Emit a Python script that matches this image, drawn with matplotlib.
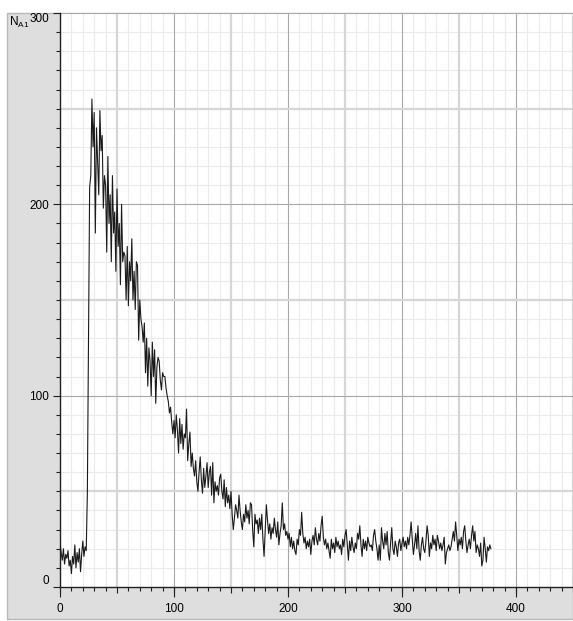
import matplotlib
matplotlib.use("Agg")
import matplotlib.pyplot as plt
from matplotlib.patches import Rectangle
from matplotlib.ticker import MultipleLocator, NullFormatter

# signal N_A1, one sample per x unit, starting at x = 0
n_a1 = [
    23, 18, 14, 20, 12, 17, 15, 19, 11, 14, 7, 16, 12, 22, 10, 18, 13, 20, 8, 17,
    24, 16, 21, 19, 49, 132, 209, 215, 255, 230, 248, 185, 240, 222, 205, 249, 228, 236, 198, 215,
    210, 175, 225, 190, 205, 170, 215, 185, 196, 165, 208, 178, 190, 158, 200, 170, 175, 173, 150, 178,
    147, 170, 160, 182, 150, 165, 145, 170, 168, 129, 150, 140, 136, 128, 138, 112, 130, 105, 125, 118,
    100, 128, 110, 124, 96, 115, 120, 118, 108, 103, 112, 110, 110, 104, 100, 97, 91, 94, 86, 80,
    87, 78, 90, 82, 70, 88, 75, 85, 72, 80, 78, 93, 66, 75, 81, 63, 70, 62, 58, 66,
    55, 50, 60, 68, 56, 49, 62, 52, 58, 65, 52, 60, 63, 48, 65, 44, 55, 50, 53, 48,
    57, 59, 50, 46, 56, 42, 52, 44, 48, 41, 50, 38, 30, 36, 43, 40, 36, 48, 40, 34,
    30, 38, 34, 43, 36, 40, 33, 44, 43, 30, 21, 38, 33, 35, 28, 36, 30, 38, 25, 16,
    30, 43, 35, 28, 33, 25, 31, 28, 36, 30, 26, 34, 22, 28, 32, 44, 30, 33, 27, 29,
    25, 28, 21, 26, 20, 24, 19, 17, 25, 22, 30, 27, 39, 28, 23, 26, 20, 24, 21, 25,
    17, 24, 27, 22, 31, 25, 22, 28, 24, 32, 37, 26, 22, 25, 20, 23, 19, 15, 25, 20,
    23, 18, 26, 21, 24, 20, 22, 17, 25, 21, 27, 30, 22, 14, 24, 19, 26, 21, 18, 23,
    20, 28, 25, 32, 22, 16, 25, 20, 24, 19, 26, 23, 21, 22, 19, 27, 30, 24, 20, 14,
    22, 14, 31, 24, 20, 28, 22, 29, 18, 14, 23, 31, 20, 17, 24, 21, 16, 23, 25, 19,
    23, 26, 21, 24, 20, 26, 22, 27, 34, 25, 17, 22, 28, 20, 32, 19, 14, 22, 26, 20,
    18, 24, 32, 27, 16, 23, 20, 27, 22, 25, 19, 27, 24, 20, 23, 19, 22, 26, 12, 18,
    20, 22, 19, 21, 25, 29, 24, 34, 27, 19, 25, 22, 26, 20, 29, 32, 24, 18, 22, 25,
    20, 27, 32, 24, 29, 18, 22, 20, 16, 23, 11, 14, 26, 20, 13, 21, 19, 22, 20,
]
x_vals = list(range(len(n_a1)))

x_labels = [0, 100, 200, 300, 400]
y_labels = [0, 100, 200, 300]

W, H = 573, 621
fig = plt.figure(figsize=(W / 100, H / 100), dpi=100, facecolor="white")

# gray frame behind the plot
bg = fig.add_axes([0, 0, 1, 1], zorder=-10)
bg.set_xlim(0, W)
bg.set_ylim(H, 0)
bg.axis("off")
bg.add_patch(Rectangle((7, 13), 566, 606, facecolor="#dedede", edgecolor="#b8b8b8", lw=1))

ax = fig.add_axes([60 / W, 34 / H, 513 / W, 574 / H], zorder=1)
ax.set_facecolor("white")
ax.set_xlim(0, 450)
ax.set_ylim(0, 300)

# grid: 10s very light, 50s light thick, 100s darker thin
for v in range(10, 451, 10):
    if v % 100 == 0:
        ax.axvline(v, color="#a8a8a8", lw=0.8, zorder=1)
    elif v % 50 == 0:
        ax.axvline(v, color="#d6d6d6", lw=1.6, zorder=1)
    else:
        ax.axvline(v, color="#ebebeb", lw=0.8, zorder=0.5)
for v in range(10, 301, 10):
    if v % 100 == 0:
        ax.axhline(v, color="#a8a8a8", lw=0.8, zorder=1)
    elif v % 50 == 0:
        ax.axhline(v, color="#d6d6d6", lw=1.6, zorder=1)
    else:
        ax.axhline(v, color="#ebebeb", lw=0.8, zorder=0.5)

ax.plot(x_vals, n_a1, color="#1a1a1a", lw=0.8, zorder=3)

for s in ["top", "right"]:
    ax.spines[s].set_visible(False)
for s in ["left", "bottom"]:
    ax.spines[s].set_color("#202020")
    ax.spines[s].set_linewidth(1.0)

font = dict(family=["Liberation Sans Narrow", "Liberation Sans", "DejaVu Sans"], size=8.5)

# x axis: minor 10, medium 50, long 100 with labels
ax.xaxis.set_major_locator(MultipleLocator(50))
ax.xaxis.set_minor_locator(MultipleLocator(10))
ax.xaxis.set_major_formatter(NullFormatter())
ax.tick_params(axis="x", which="major", length=4.5, width=0.8, color="#202020")
ax.tick_params(axis="x", which="minor", length=3, width=0.8, color="#202020")
sec = ax.secondary_xaxis("bottom")
sec.set_xticks(x_labels)
sec.set_xticklabels([str(v) for v in x_labels], fontdict=font)
sec.tick_params(length=7.5, width=0.8, color="#202020", pad=4)
sec.spines["bottom"].set_visible(False)

# y axis
ax.yaxis.set_major_locator(MultipleLocator(100))
ax.yaxis.set_minor_locator(MultipleLocator(10))
ax.set_yticks(y_labels)
ax.set_yticklabels([str(v) for v in y_labels], fontdict=font)
ax.tick_params(axis="y", which="major", length=5, width=0.8, color="#202020", pad=3)
ax.tick_params(axis="y", which="minor", length=3, width=0.8, color="#202020")
# end labels sit inside the axis range, as in the original
ylabs = ax.get_yticklabels()
ylabs[0].set_verticalalignment("bottom")
ylabs[-1].set_verticalalignment("top")

fig.text(9 / W, 1 - 22 / H, r"N$_{\mathregular{A1}}$", fontsize=8.5, va="center", ha="left",
         family=["Liberation Sans Narrow", "Liberation Sans", "DejaVu Sans"])

fig.savefig("out.png", dpi=100, facecolor=fig.get_facecolor())
